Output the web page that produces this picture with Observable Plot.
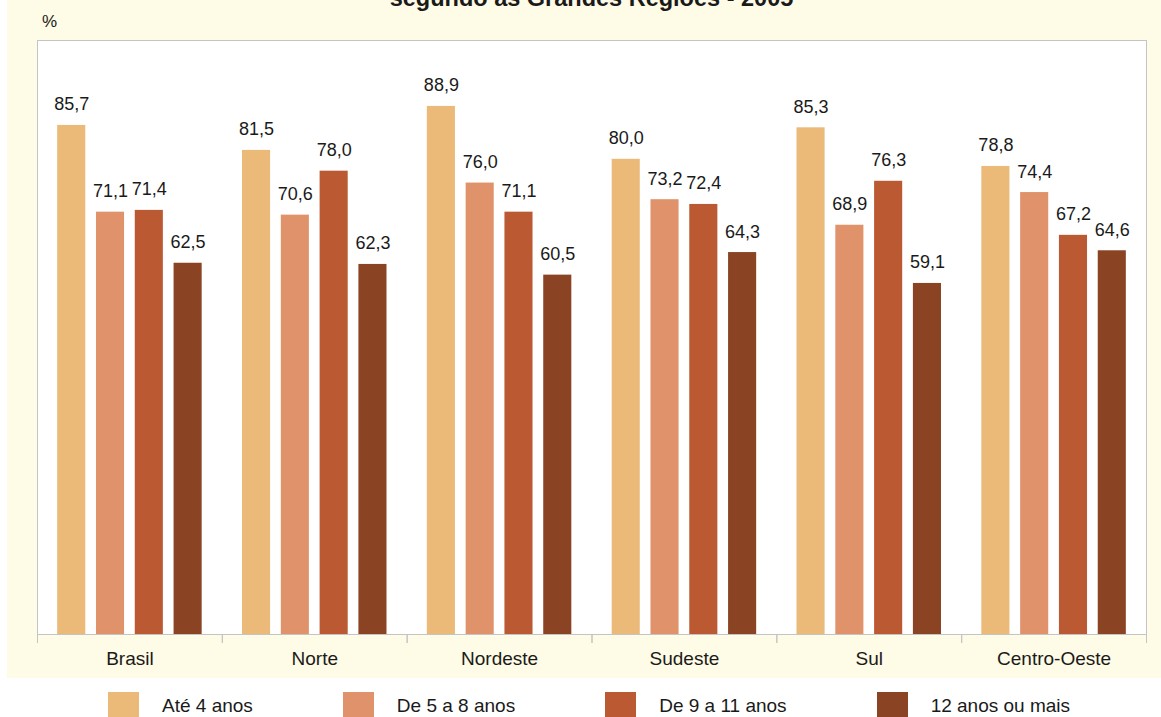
<!DOCTYPE html>
<html><head><meta charset="utf-8">
<script src="https://cdn.jsdelivr.net/npm/d3@7"></script>
<script src="https://cdn.jsdelivr.net/npm/@observablehq/plot@0.6"></script>
<style>
body{margin:0;background:#fff;font-family:"Liberation Sans",Arial,sans-serif;width:1161px;height:717px;overflow:hidden;position:relative;color:#1a1a1a}
#panel{position:absolute;left:7px;top:0;width:1154px;height:678px;background:#FEFBE6}
#title{position:absolute;left:37px;width:1109px;top:-13px;text-align:center;font-weight:bold;font-size:23.5px;line-height:23.5px;white-space:nowrap}
#pct{position:absolute;left:42px;top:13px;font-size:17px;line-height:17px}
#chart{position:absolute;left:0;top:0}
#legend{position:absolute;left:108px;top:692px;display:flex;align-items:center;font-size:19px;white-space:nowrap}
.item{display:flex;align-items:center;margin-right:90px}
.sw{width:31px;height:28px;margin-right:23px}
</style></head>
<body>
<div id="panel"></div>
<div id="title">segundo as Grandes Regiões - 2005</div>
<div id="pct">%</div>
<div id="chart"></div>
<div id="legend"></div>
<script>
const regions = ["Brasil", "Norte", "Nordeste", "Sudeste", "Sul", "Centro-Oeste"];
const groups = ["Até 4 anos", "De 5 a 8 anos", "De 9 a 11 anos", "12 anos ou mais"];
const ate4 = [85.7, 81.5, 88.9, 80.0, 85.3, 78.8];
const de5a8 = [71.1, 70.6, 76.0, 73.2, 68.9, 74.4];
const de9a11 = [71.4, 78.0, 71.1, 72.4, 76.3, 67.2];
const mais12 = [62.5, 62.3, 60.5, 64.3, 59.1, 64.6];
const colors = ["#EBB978", "#E0936B", "#BB5A32", "#8A4323"];

const series = [ate4, de5a8, de9a11, mais12];
const table = [];
regions.forEach((r, i) => groups.forEach((g, j) => table.push({region: r, group: g, value: series[j][i]})));
const fmt = v => v.toFixed(1).replace(".", ",");

const W = 1161, H = 678, mT = 40, mB = 44, mL = 37, mR = 15;
const innerH = H - mT - mB;

const chart = Plot.plot({
  width: W, height: H,
  marginTop: mT, marginBottom: mB, marginLeft: mL, marginRight: mR,
  style: {fontFamily: '"Liberation Sans", Arial, sans-serif', fontSize: "19px", background: "transparent", color: "#1a1a1a"},
  fx: {domain: regions, padding: 0, round: false, label: null, tickSize: 0, tickPadding: 17, axis: "bottom"},
  x: {domain: groups, paddingInner: 0.276, paddingOuter: 0.52, round: false, axis: null},
  y: {domain: [0, 100], axis: null},
  color: {domain: groups, range: colors},
  marks: [
    Plot.frame({facet: "super", stroke: "#c4c4c4", fill: "#fff"}),
    Plot.frame({anchor: "left", insetTop: innerH, insetBottom: -8, stroke: "#c4c4c4"}),
    Plot.frame({anchor: "right", insetTop: innerH, insetBottom: -8, stroke: "#c4c4c4"}),
    Plot.barY(table, {fx: "region", x: "group", y: "value", fill: "group"}),
    Plot.text(table, {fx: "region", x: "group", y: "value", text: d => fmt(d.value), dy: -15, lineAnchor: "bottom", fontSize: 18, fill: "#1a1a1a"})
  ]
});
document.getElementById("chart").appendChild(chart);

const legend = document.getElementById("legend");
groups.forEach((g, j) => {
  const it = document.createElement("div");
  it.className = "item";
  const sw = document.createElement("div");
  sw.className = "sw";
  sw.style.background = colors[j];
  const t = document.createElement("span");
  t.textContent = g;
  it.appendChild(sw); it.appendChild(t);
  legend.appendChild(it);
});
</script>
</body></html>
